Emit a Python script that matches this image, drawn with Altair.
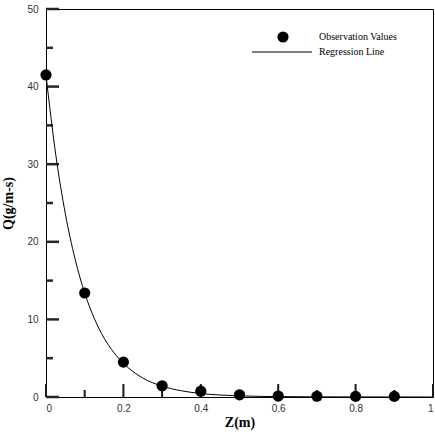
import altair as alt
import pandas as pd

# Observation data
z_obs = [0.0, 0.1, 0.2, 0.3, 0.4, 0.5, 0.6, 0.7, 0.8, 0.9]
q_obs = [41.5, 13.4, 4.5, 1.45, 0.75, 0.28, 0.12, 0.1, 0.08, 0.08]

# Regression curve
z_fit = [0.0, 0.025, 0.05, 0.075, 0.1, 0.125, 0.15, 0.175, 0.2, 0.25, 0.3, 0.35, 0.4, 0.5, 0.6, 0.7, 0.8, 1.0]
q_fit = [41.5, 31.3, 23.6, 17.8, 13.4, 10.1, 7.6, 5.75, 4.35, 2.45, 1.4, 0.8, 0.45, 0.15, 0.05, 0.02, 0.01, 0.0]

x_major = [0.0, 0.2, 0.4, 0.6, 0.8, 1.0]
x_minor = [0.1, 0.3, 0.5, 0.7, 0.9]
y_major = [0, 10, 20, 30, 40, 50]
y_minor = [5, 15, 25, 35, 45]

legend_labels = ["Observation Values", "Regression Line"]

W, H = 387, 388

obs = pd.DataFrame({"z": z_obs, "q": q_obs})
fit = pd.DataFrame({"z": z_fit, "q": q_fit})

xs = alt.Scale(domain=[0, 1], nice=False, zero=False)
ys = alt.Scale(domain=[0, 50], nice=False, zero=False)

label_font = "Liberation Sans"
serif = "Liberation Serif"

xaxis = alt.Axis(values=x_major, labelExpr="datum.value == 0 ? '0' : datum.value == 1 ? '1' : format(datum.value, '.1f')",
                 grid=False, ticks=False, domain=False, labelFont=label_font, labelFontSize=10,
                 labelColor="#333333", labelPadding=6, title="Z(m)", titleFont=serif,
                 titleFontSize=14, titleFontWeight="bold", titleColor="#000000", titlePadding=2)
yaxis = alt.Axis(values=y_major, format="d", grid=False, ticks=False, domain=False,
                 labelFont=label_font, labelFontSize=10, labelColor="#333333", labelPadding=8,
                 title="Q(g/m-s)", titleFont=serif, titleFontSize=14, titleFontWeight="bold",
                 titleColor="#000000", titlePadding=11)

points = alt.Chart(obs).mark_circle(size=125, color="black", opacity=1).encode(
    x=alt.X("z:Q", scale=xs, axis=xaxis),
    y=alt.Y("q:Q", scale=ys, axis=yaxis),
)

line = alt.Chart(fit).mark_line(color="black", strokeWidth=1, interpolate="monotone").encode(
    x=alt.X("z:Q", scale=xs),
    y=alt.Y("q:Q", scale=ys),
)

tc = "#1a1a1a"
tw = 2
xmaj = alt.Chart(pd.DataFrame({"tx": x_major})).mark_rule(color=tc, strokeWidth=tw, opacity=1).encode(
    x=alt.X("tx:Q", scale=xs), y=alt.Y(datum=0, scale=ys), y2=alt.Y2(datum=1.68))
xmin = alt.Chart(pd.DataFrame({"tx": x_minor})).mark_rule(color=tc, strokeWidth=tw, opacity=1).encode(
    x=alt.X("tx:Q", scale=xs), y=alt.Y(datum=0, scale=ys), y2=alt.Y2(datum=0.9))
ymaj = alt.Chart(pd.DataFrame({"ty": y_major})).mark_rule(color="#262626", strokeWidth=2.5, opacity=1).encode(
    y=alt.Y("ty:Q", scale=ys), x=alt.X(datum=0, scale=xs), x2=alt.X2(datum=0.0336))
ymin = alt.Chart(pd.DataFrame({"ty": y_minor})).mark_rule(color="#262626", strokeWidth=2.5, opacity=1).encode(
    y=alt.Y("ty:Q", scale=ys), x=alt.X(datum=0, scale=xs), x2=alt.X2(datum=0.018))

leg_pt = alt.Chart(pd.DataFrame({"l": [legend_labels[0]]})).mark_circle(size=125, color="black", opacity=1).encode(
    x=alt.value(237), y=alt.value(28))
leg_ln = alt.Chart(pd.DataFrame({"l": [legend_labels[1]]})).mark_rule(color="black", strokeWidth=1).encode(
    x=alt.value(206), x2=alt.value(266), y=alt.value(43))
leg_txt = alt.Chart(pd.DataFrame({"l": legend_labels, "yy": [28, 43]})).mark_text(
    align="left", baseline="middle", font=serif, fontSize=10, color="black").encode(
    x=alt.value(273), y=alt.Y("yy:Q", scale=None), text="l:N")

chart = alt.layer(xmaj, xmin, ymaj, ymin, line, points, leg_pt, leg_ln, leg_txt).properties(
    width=W, height=H,
    autosize=alt.AutoSizeParams(type="none"),
    padding={"left": 46, "top": 9, "right": 2, "bottom": 35},
    background="white",
).configure_view(stroke="black", strokeWidth=1)

chart.save("out.html", embed_options={"renderer": "svg", "actions": False})
